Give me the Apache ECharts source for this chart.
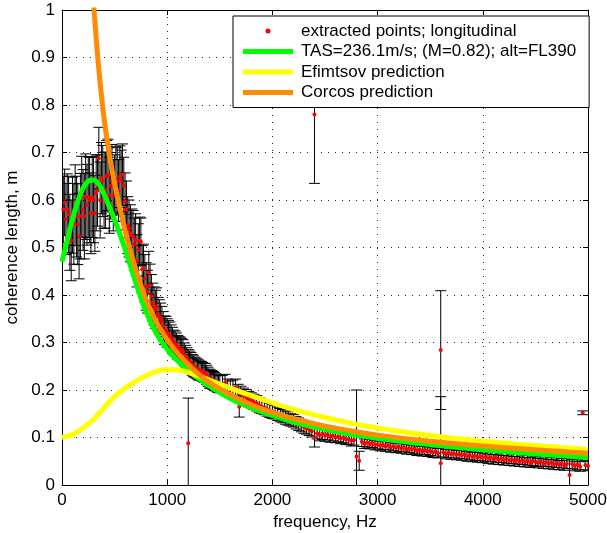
<!DOCTYPE html>
<html>
<head>
<meta charset="utf-8">
<script src="https://cdn.jsdelivr.net/npm/echarts@6/dist/echarts.min.js"></script>
<style>
  html, body { margin: 0; padding: 0; background: #fff; }
  #chart { width: 607px; height: 533px; }
</style>
</head>
<body>
<div id="chart"></div>
<script>
// Measured longitudinal coherence length: frequency (Hz), value (m), error half-width (m)
const ptFreq = [
  25, 50, 75, 100, 125, 150, 175, 200, 225, 250,
  275, 300, 325, 350, 375, 400, 425, 450, 475, 500,
  525, 550, 575, 600, 625, 650, 675, 700, 725, 750,
  775, 800, 825, 850, 875, 900, 925, 950, 975, 1000,
  1025, 1050, 1075, 1100, 1125, 1150, 1175, 1200, 1225, 1250,
  1275, 1300, 1325, 1350, 1375, 1400, 1425, 1450, 1475, 1500,
  1525, 1550, 1575, 1600, 1625, 1650, 1675, 1700, 1725, 1750,
  1775, 1800, 1825, 1850, 1875, 1900, 1925, 1950, 1975, 2000,
  2025, 2050, 2075, 2100, 2125, 2150, 2175, 2200, 2225, 2250,
  2275, 2300, 2325, 2350, 2375, 2400, 2425, 2450, 2475, 2500,
  2525, 2550, 2575, 2600, 2625, 2650, 2675, 2700, 2725, 2750,
  2775, 2800, 2825, 2850, 2875, 2900, 2925, 2950, 2975, 3000,
  3025, 3050, 3075, 3100, 3125, 3150, 3175, 3200, 3225, 3250,
  3275, 3300, 3325, 3350, 3375, 3400, 3425, 3450, 3475, 3500,
  3525, 3550, 3575, 3600, 3625, 3650, 3675, 3700, 3725, 3750,
  3775, 3800, 3825, 3850, 3875, 3900, 3925, 3950, 3975, 4000,
  4025, 4050, 4075, 4100, 4125, 4150, 4175, 4200, 4225, 4250,
  4275, 4300, 4325, 4350, 4375, 4400, 4425, 4450, 4475, 4500,
  4525, 4550, 4575, 4600, 4625, 4650, 4675, 4700, 4725, 4750,
  4775, 4800, 4825, 4850, 4875, 4900, 4925, 4950, 4975, 5000,
  1200, 1685, 2400, 3600
];
const ptValue = [
  0.595, 0.580, 0.532, 0.568, 0.589, 0.549, 0.566, 0.579, 0.607, 0.606,
  0.572, 0.600, 0.615, 0.688, 0.646, 0.620, 0.650, 0.610, 0.642, 0.625,
  0.640, 0.649, 0.653, 0.597, 0.547, 0.530, 0.523, 0.516, 0.495, 0.512,
  0.457, 0.418, 0.447, 0.398, 0.377, 0.375, 0.355, 0.344, 0.326, 0.320,
  0.315, 0.305, 0.298, 0.290, 0.286, 0.282, 0.270, 0.262, 0.257, 0.250,
  0.246, 0.242, 0.240, 0.236, 0.232, 0.224, 0.222, 0.218, 0.214, 0.212,
  0.213, 0.215, 0.206, 0.202, 0.204, 0.206, 0.196, 0.192, 0.188, 0.185,
  0.181, 0.178, 0.175, 0.172, 0.168, 0.165, 0.163, 0.160, 0.157, 0.155,
  0.153, 0.150, 0.147, 0.145, 0.142, 0.140, 0.137, 0.135, 0.131, 0.128,
  0.125, 0.122, 0.119, 0.116, 0.113, 0.101, 0.109, 0.105, 0.108, 0.104,
  0.106, 0.101, 0.104, 0.100, 0.102, 0.098, 0.100, 0.096, 0.097, 0.093,
  0.095, 0.060, 0.051, 0.091, 0.087, 0.090, 0.086, 0.089, 0.084, 0.086,
  0.082, 0.085, 0.081, 0.084, 0.079, 0.082, 0.078, 0.081, 0.077, 0.080,
  0.075, 0.078, 0.074, 0.077, 0.072, 0.075, 0.071, 0.074, 0.070, 0.072,
  0.068, 0.071, 0.067, 0.046, 0.069, 0.065, 0.068, 0.064, 0.067, 0.063,
  0.066, 0.062, 0.065, 0.060, 0.063, 0.059, 0.062, 0.058, 0.061, 0.057,
  0.060, 0.055, 0.059, 0.054, 0.058, 0.053, 0.057, 0.052, 0.056, 0.051,
  0.055, 0.050, 0.054, 0.049, 0.053, 0.048, 0.052, 0.047, 0.051, 0.049,
  0.046, 0.050, 0.045, 0.049, 0.044, 0.048, 0.043, 0.047, 0.042, 0.046,
  0.041, 0.045, 0.021, 0.044, 0.040, 0.043, 0.039, 0.152, 0.042, 0.040,
  0.088, 0.165, 0.780, 0.284
];
const ptError = [
  0.070, 0.075, 0.080, 0.080, 0.085, 0.085, 0.090, 0.085, 0.090, 0.085,
  0.085, 0.090, 0.080, 0.065, 0.075, 0.080, 0.075, 0.080, 0.075, 0.070,
  0.070, 0.065, 0.065, 0.060, 0.060, 0.060, 0.055, 0.055, 0.055, 0.050,
  0.050, 0.050, 0.045, 0.045, 0.040, 0.040, 0.035, 0.032, 0.030, 0.030,
  0.028, 0.027, 0.026, 0.025, 0.025, 0.024, 0.024, 0.023, 0.022, 0.022,
  0.021, 0.021, 0.020, 0.020, 0.020, 0.020, 0.019, 0.019, 0.018, 0.018,
  0.018, 0.018, 0.017, 0.017, 0.017, 0.017, 0.016, 0.016, 0.016, 0.016,
  0.016, 0.016, 0.016, 0.016, 0.016, 0.015, 0.015, 0.015, 0.015, 0.015,
  0.014, 0.014, 0.014, 0.014, 0.014, 0.014, 0.013, 0.013, 0.013, 0.013,
  0.013, 0.013, 0.012, 0.012, 0.012, 0.021, 0.012, 0.012, 0.012, 0.012,
  0.011, 0.011, 0.011, 0.011, 0.011, 0.011, 0.011, 0.011, 0.011, 0.011,
  0.011, 0.140, 0.020, 0.010, 0.010, 0.010, 0.010, 0.010, 0.010, 0.010,
  0.010, 0.010, 0.010, 0.010, 0.010, 0.010, 0.010, 0.010, 0.010, 0.010,
  0.010, 0.010, 0.010, 0.010, 0.010, 0.010, 0.010, 0.010, 0.010, 0.010,
  0.010, 0.010, 0.010, 0.140, 0.010, 0.010, 0.010, 0.010, 0.010, 0.010,
  0.010, 0.010, 0.010, 0.010, 0.010, 0.010, 0.010, 0.010, 0.010, 0.010,
  0.010, 0.010, 0.010, 0.010, 0.010, 0.010, 0.010, 0.010, 0.010, 0.010,
  0.010, 0.010, 0.010, 0.010, 0.010, 0.010, 0.010, 0.010, 0.010, 0.010,
  0.010, 0.010, 0.010, 0.010, 0.010, 0.010, 0.010, 0.010, 0.010, 0.010,
  0.010, 0.010, 0.040, 0.010, 0.010, 0.010, 0.010, 0.004, 0.010, 0.010,
  0.095, 0.022, 0.145, 0.125
];

// Intermediate bins below 1.5 kHz
const binFreq = [
  12.5, 37.5, 62.5, 87.5, 112.5, 137.5, 162.5, 187.5, 212.5, 237.5,
  262.5, 287.5, 312.5, 337.5, 362.5, 387.5, 412.5, 437.5, 462.5, 487.5,
  512.5, 537.5, 562.5, 587.5, 612.5, 637.5, 662.5, 687.5, 712.5, 737.5,
  762.5, 787.5, 812.5, 837.5, 862.5, 887.5, 912.5, 937.5, 962.5, 987.5,
  1012.5, 1037.5, 1062.5, 1087.5, 1112.5, 1137.5, 1162.5, 1187.5, 1212.5, 1237.5,
  1262.5, 1287.5, 1312.5, 1337.5, 1362.5, 1387.5, 1412.5, 1437.5, 1462.5, 1487.5
];
const binValue = [
  0.580, 0.560, 0.570, 0.515, 0.550, 0.565, 0.524, 0.607, 0.566, 0.590,
  0.600, 0.606, 0.572, 0.620, 0.600, 0.640, 0.621, 0.653, 0.630, 0.610,
  0.642, 0.620, 0.640, 0.630, 0.580, 0.540, 0.526, 0.507, 0.472, 0.514,
  0.454, 0.435, 0.407, 0.420, 0.385, 0.370, 0.360, 0.350, 0.335, 0.325,
  0.318, 0.310, 0.300, 0.295, 0.288, 0.284, 0.275, 0.266, 0.260, 0.253,
  0.248, 0.244, 0.241, 0.238, 0.236, 0.228, 0.223, 0.220, 0.216, 0.213
];
const binError = [
  0.070, 0.075, 0.080, 0.085, 0.085, 0.085, 0.090, 0.085, 0.090, 0.085,
  0.090, 0.085, 0.080, 0.075, 0.080, 0.075, 0.080, 0.075, 0.070, 0.075,
  0.070, 0.065, 0.065, 0.060, 0.060, 0.060, 0.055, 0.055, 0.055, 0.050,
  0.050, 0.050, 0.045, 0.045, 0.040, 0.040, 0.035, 0.033, 0.030, 0.030,
  0.028, 0.027, 0.026, 0.025, 0.025, 0.024, 0.024, 0.023, 0.022, 0.022,
  0.021, 0.021, 0.020, 0.020, 0.020, 0.020, 0.019, 0.019, 0.018, 0.018
];

// Prediction curves
const tasFreq = [0, 50, 100, 150, 200, 250, 300, 350, 400, 450, 500, 550, 600, 650, 700, 750, 800, 900, 1000, 1100, 1250, 1400, 1600, 1800, 2000, 2250, 2500, 2750, 3000, 3500, 4000, 4500, 5000];
const tasLen  = [0.470, 0.515, 0.560, 0.597, 0.625, 0.640, 0.642, 0.633, 0.612, 0.586, 0.558, 0.528, 0.496, 0.462, 0.427, 0.394, 0.364, 0.318, 0.286, 0.261, 0.232, 0.208, 0.182, 0.162, 0.146, 0.130, 0.117, 0.107, 0.098, 0.085, 0.074, 0.065, 0.058];

const efimFreq = [0, 100, 200, 300, 400, 500, 600, 700, 800, 900, 1000, 1100, 1200, 1300, 1400, 1600, 1800, 2000, 2250, 2500, 2750, 3000, 3500, 4000, 4500, 5000];
const efimLen  = [0.100, 0.106, 0.120, 0.138, 0.163, 0.186, 0.204, 0.218, 0.230, 0.239, 0.243, 0.242, 0.237, 0.229, 0.221, 0.204, 0.188, 0.173, 0.156, 0.142, 0.130, 0.120, 0.104, 0.092, 0.083, 0.075];

const corcosFreq = [290, 300, 325, 350, 375, 400, 450, 500, 550, 600, 700, 800, 900, 1000, 1100, 1250, 1400, 1600, 1800, 2000, 2250, 2500, 2750, 3000, 3500, 4000, 4500, 5000];
const corcosLen  = [1.050, 1.015, 0.940, 0.875, 0.820, 0.772, 0.695, 0.635, 0.583, 0.535, 0.455, 0.390, 0.342, 0.306, 0.277, 0.243, 0.216, 0.190, 0.169, 0.153, 0.137, 0.124, 0.114, 0.105, 0.092, 0.082, 0.074, 0.067];

const xTicks = [0, 1000, 2000, 3000, 4000, 5000];
const yTicks = [0, 0.1, 0.2, 0.3, 0.4, 0.5, 0.6, 0.7, 0.8, 0.9, 1];

const names = {
  pts: 'extracted points; longitudinal',
  tas: 'TAS=236.1m/s; (M=0.82); alt=FL390',
  efim: 'Efimtsov prediction',
  corcos: 'Corcos prediction'
};

const FONT = '"Liberation Sans", Arial, Helvetica, sans-serif';

const pairs = (xs, ys) => xs.map((x, i) => [x, ys[i]]);
const allFreq = ptFreq.concat(binFreq);
const allValue = ptValue.concat(binValue);
const allError = ptError.concat(binError);
const pointData = pairs(allFreq, allValue);
const barData = allFreq.map((f, i) => [f, allValue[i] - allError[i], allValue[i] + allError[i]]);

function renderErrorBar(params, api) {
  const f = api.value(0);
  const lo = api.coord([f, api.value(1)]);
  const hi = api.coord([f, api.value(2)]);
  const cap = 5.5;
  const style = { stroke: '#000', lineWidth: 1, fill: null };
  return {
    type: 'group',
    children: [
      { type: 'line', shape: { x1: lo[0], y1: lo[1], x2: hi[0], y2: hi[1] }, style },
      { type: 'line', shape: { x1: lo[0] - cap, y1: lo[1], x2: lo[0] + cap, y2: lo[1] }, style },
      { type: 'line', shape: { x1: hi[0] - cap, y1: hi[1], x2: hi[0] + cap, y2: hi[1] }, style }
    ]
  };
}

const axisCommon = {
  type: 'value',
  axisLine: { show: true, onZero: false, lineStyle: { color: '#000', width: 1 } },
  axisTick: { show: true, inside: true, length: 5, lineStyle: { color: '#000' } }
};

const chart = echarts.init(document.getElementById('chart'), null, { renderer: 'canvas' });
chart.setOption({
  animation: false,
  backgroundColor: '#fff',
  grid: { left: 62, right: 19, top: 10, bottom: 48, containLabel: false, outerBoundsMode: 'none' },
  xAxis: [
    Object.assign({}, axisCommon, {
      position: 'bottom', min: xTicks[0], max: xTicks[xTicks.length - 1], interval: 1000,
      name: 'frequency, Hz', nameLocation: 'middle', nameGap: 27,
      nameTextStyle: { color: '#000', fontSize: 17, fontFamily: FONT },
      axisLabel: { color: '#000', fontSize: 17, fontFamily: FONT, margin: 7, formatter: v => String(v) },
      splitLine: { show: true, lineStyle: { color: '#222', width: 1, type: [1, 6] } }
    }),
    Object.assign({}, axisCommon, {
      position: 'top', min: xTicks[0], max: xTicks[xTicks.length - 1], interval: 1000,
      axisLabel: { show: false }, splitLine: { show: false }
    })
  ],
  yAxis: [
    Object.assign({}, axisCommon, {
      position: 'left', min: yTicks[0], max: yTicks[yTicks.length - 1], interval: 0.1,
      name: 'coherence length, m', nameLocation: 'middle', nameGap: 30,
      nameTextStyle: { color: '#000', fontSize: 17, fontFamily: FONT },
      axisLabel: { color: '#000', fontSize: 17, fontFamily: FONT, margin: 7,
        formatter: v => (Math.abs(v) < 1e-9 ? '0' : Math.abs(v - 1) < 1e-9 ? '1' : v.toFixed(1)) },
      splitLine: { show: true, lineStyle: { color: '#222', width: 1, type: [1, 6] } }
    }),
    Object.assign({}, axisCommon, {
      position: 'right', min: yTicks[0], max: yTicks[yTicks.length - 1], interval: 0.1,
      axisLabel: { show: false }, splitLine: { show: false }
    })
  ],
  legend: {
    orient: 'vertical',
    left: 233, top: 16,
    padding: [5, 13, 5, 10],
    itemGap: 0.5,
    itemWidth: 50, itemHeight: 5,
    backgroundColor: '#fff',
    borderColor: '#000', borderWidth: 1, borderRadius: 0,
    textStyle: { color: '#000', fontSize: 17, fontFamily: FONT, lineHeight: 20, padding: [0, 0, 0, 3] },
    data: [
      { name: names.pts, icon: 'circle' },
      { name: names.tas, icon: 'rect' },
      { name: names.efim, icon: 'rect' },
      { name: names.corcos, icon: 'rect' }
    ]
  },
  series: [
    {
      name: 'errorbars', type: 'custom', clip: true, z: 2,
      renderItem: renderErrorBar,
      encode: { x: 0, y: [1, 2] },
      data: barData, silent: true
    },
    {
      name: names.pts, type: 'scatter', z: 3,
      symbol: 'circle', symbolSize: 4,
      itemStyle: { color: '#ff0000', opacity: 1, borderWidth: 0 },
      data: pointData
    },
    {
      name: names.tas, type: 'line', z: 4, smooth: 0.3, symbol: 'none', clip: true,
      lineStyle: { color: '#00ff00', width: 5 }, itemStyle: { color: '#00ff00' },
      data: pairs(tasFreq, tasLen)
    },
    {
      name: names.efim, type: 'line', z: 5, smooth: 0.3, symbol: 'none', clip: true,
      lineStyle: { color: '#ffff00', width: 5 }, itemStyle: { color: '#ffff00' },
      data: pairs(efimFreq, efimLen)
    },
    {
      name: names.corcos, type: 'line', z: 6, smooth: 0.3, symbol: 'none', clip: true,
      lineStyle: { color: '#ff8c00', width: 5 }, itemStyle: { color: '#ff8c00' },
      data: pairs(corcosFreq, corcosLen)
    }
  ]
});
</script>
</body>
</html>
